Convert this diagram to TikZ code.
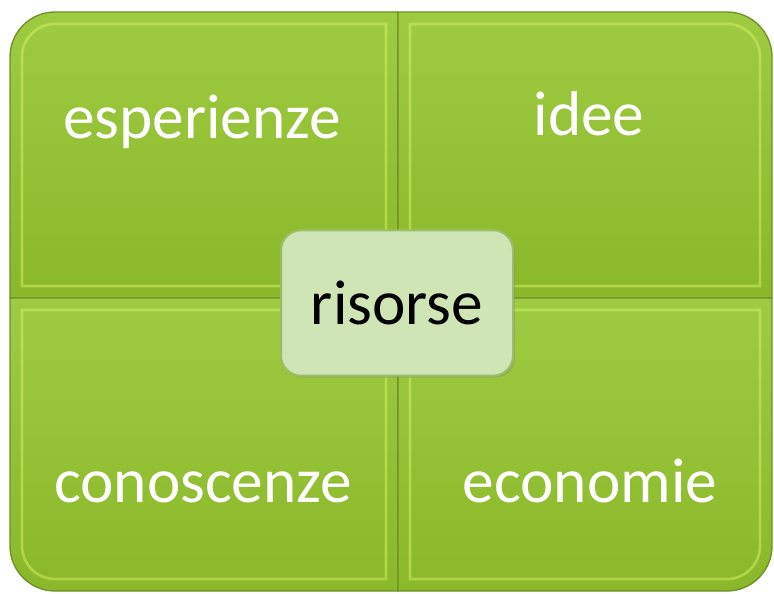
\documentclass[tikz,border=0pt]{standalone}
\usepackage{fontspec}
\setmainfont{Carlito}
\usetikzlibrary{shadows}

\definecolor{quadtop}{HTML}{9FCB42}
\definecolor{quadbot}{HTML}{8BB72A}
\definecolor{quadedge}{HTML}{6F9128}
\definecolor{quadlight}{HTML}{D2F264}
\definecolor{hubfill}{HTML}{CFE5B6}
\definecolor{hubedge}{HTML}{9DBD6B}

\begin{document}
\begin{tikzpicture}[x=0.75pt, y=0.75pt,
    quad/.style={top color=quadtop, bottom color=quadbot, draw=quadedge, line width=1pt},
    bevel/.style={draw=quadlight, line width=2pt, opacity=0.5},
    word/.style={text=white, font=\fontsize{47.5}{52}\selectfont, anchor=base},
    hub/.style={draw=hubedge, fill=hubfill, line width=1.5pt, rounded corners=15pt,
        minimum width=174pt, minimum height=109pt, inner sep=0pt,
        font=\fontsize{47.5}{52}\selectfont, text=black,
        drop shadow={opacity=0.35, shadow xshift=1.5pt, shadow yshift=-1.5pt}}]

    \useasboundingbox (0,0) rectangle (774,593);

    % 四个象限
    \shadedraw[quad] (398,295) -- (10,295) -- (10,536) arc[start angle=180, end angle=90, radius=45] -- (398,581) -- cycle;
    \shadedraw[quad] (398,295) -- (398,581) -- (727,581) arc[start angle=90, end angle=0, radius=45] -- (772,295) -- cycle;
    \shadedraw[quad] (398,295) -- (10,295) -- (10,47) arc[start angle=180, end angle=270, radius=45] -- (398,2) -- cycle;
    \shadedraw[quad] (398,295) -- (772,295) -- (772,47) arc[start angle=0, end angle=-90, radius=45] -- (398,2) -- cycle;

    % 内侧高光
    \draw[bevel] (386,307) -- (22,307) -- (22,536) arc[start angle=180, end angle=90, radius=33] -- (386,569) -- cycle;
    \draw[bevel] (410,307) -- (410,569) -- (727,569) arc[start angle=90, end angle=0, radius=33] -- (760,307) -- cycle;
    \draw[bevel] (386,283) -- (22,283) -- (22,47) arc[start angle=180, end angle=270, radius=33] -- (386,14) -- cycle;
    \draw[bevel] (410,283) -- (760,283) -- (760,47) arc[start angle=0, end angle=-90, radius=33] -- (410,14) -- cycle;

    % 文字
    \node[word] (esp) at (202,454) {esperienze};
    \node[word] (idee) at (589,457) {idee};
    \node[word] (cono) at (203,91) {conoscenze};
    \node[word] (econ) at (590,91) {economie};

    % 中心
    \node[hub] (ris) at (397,290) {risorse};
\end{tikzpicture}
\end{document}
